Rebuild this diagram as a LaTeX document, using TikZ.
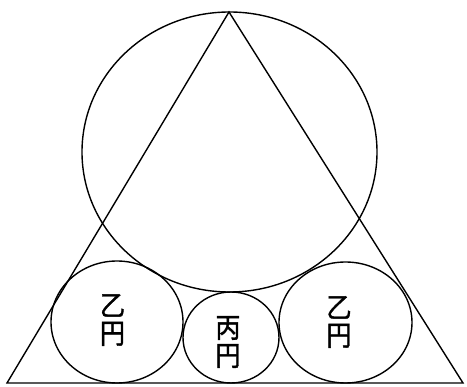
\documentclass[tikz,border=0pt]{standalone}
\usepackage{fontspec}
\newfontfamily\cjk[FakeBold=1.5]{Noto Sans CJK JP}
\begin{document}
\begin{tikzpicture}[x=1pt,y=-1pt,
  geo/.style={draw=black,line width=1.4pt},
  lbl/.style={font=\cjk\fontsize{28}{28}\selectfont,align=center,inner sep=0pt,xscale=0.9,yscale=1.0}]
\useasboundingbox (0,0) rectangle (467,387);
\coordinate (A) at (229,12);
\coordinate (B) at (7,383);
\coordinate (C) at (463,383);
\draw[geo] (A) -- (B) -- (C) -- cycle;
\draw[geo] (229.5,152) ellipse [x radius=147.5, y radius=140];
\draw[geo] (117,322) ellipse [x radius=66, y radius=61];
\draw[geo] (345.5,322.5) ellipse [x radius=66.5, y radius=60.5];
\draw[geo] (231,337.5) ellipse [x radius=48, y radius=45.5];
\node[lbl] (otsuL) at (112.5,320) {乙\\円};
\node[lbl] (hei) at (228,342) {丙\\円};
\node[lbl] (otsuR) at (339,322) {乙\\円};
\end{tikzpicture}
\end{document}
